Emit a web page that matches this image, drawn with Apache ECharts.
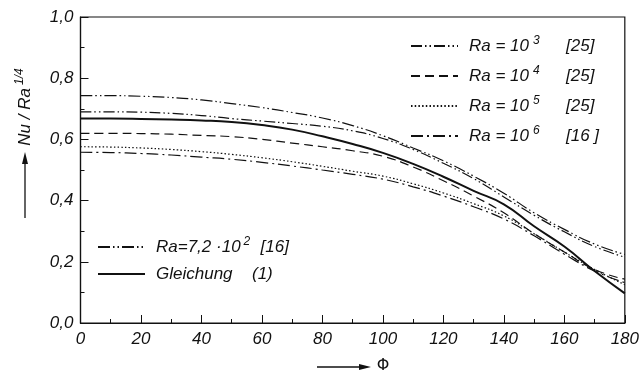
<!DOCTYPE html>
<html><head><meta charset="utf-8">
<script src="https://cdn.jsdelivr.net/npm/echarts@6/dist/echarts.min.js"></script>
<style>html,body{margin:0;padding:0;background:#fff}#c{width:642px;height:378px}</style>
</head><body><div id="c"></div>
<script>
const phi = [0,10,20,30,40,50,60,70,80,90,100,110,120,130,140,150,160,170,180];
const ra72e2 = [0.743,0.743,0.741,0.737,0.729,0.717,0.704,0.688,0.670,0.645,0.612,0.572,0.530,0.480,0.424,0.360,0.306,0.258,0.224];
const ra1e3 = [0.690,0.690,0.689,0.685,0.678,0.668,0.660,0.652,0.643,0.628,0.603,0.567,0.522,0.472,0.412,0.352,0.298,0.250,0.215];
const ra1e4 = [0.620,0.620,0.619,0.617,0.613,0.609,0.600,0.588,0.576,0.563,0.545,0.510,0.465,0.415,0.360,0.292,0.232,0.175,0.143];
const ra1e5 = [0.576,0.575,0.572,0.567,0.560,0.551,0.540,0.527,0.512,0.496,0.480,0.455,0.425,0.390,0.350,0.292,0.232,0.175,0.125];
const ra1e6 = [0.558,0.557,0.554,0.549,0.542,0.535,0.525,0.513,0.500,0.486,0.470,0.445,0.415,0.380,0.340,0.285,0.225,0.170,0.132];
const gleichung = [0.668,0.668,0.667,0.665,0.662,0.657,0.647,0.632,0.610,0.585,0.556,0.520,0.478,0.432,0.388,0.316,0.250,0.170,0.097];
const xTicks = [0,20,40,60,80,100,120,140,160,180];
const yTicks = ['0,0','0,2','0,4','0,6','0,8','1,0'];

const names = ['Ra=10^3 [25]','Ra=10^4 [25]','Ra=10^5 [25]','Ra=10^6 [16]','Ra=7,2·10^2 [16]','Gleichung (1)'];
const labelMap = {
  'Ra=10^3 [25]': '{r|Ra = 10}{s|3}{b|[25]}',
  'Ra=10^4 [25]': '{r|Ra = 10}{s|4}{b|[25]}',
  'Ra=10^5 [25]': '{r|Ra = 10}{s|5}{b|[25]}',
  'Ra=10^6 [16]': '{r|Ra = 10}{s|6}{b|[16 ]}',
  'Ra=7,2·10^2 [16]': '{r|Ra=7,2 ·10}{t|2}{b|[16]}',
  'Gleichung (1)': '{g|Gleichung}{b|(1)}'
};
const FONT = 'Liberation Sans';
const rich = {
  r: {fontFamily: FONT, fontStyle: 'italic', fontSize: 17, color: '#111', lineHeight: 22},
  s: {fontFamily: FONT, fontStyle: 'italic', fontSize: 12, color: '#111', verticalAlign: 'top', lineHeight: 22, width: 33, padding: [0,0,0,4]},
  t: {fontFamily: FONT, fontStyle: 'italic', fontSize: 12, color: '#111', verticalAlign: 'top', lineHeight: 22, width: 17, padding: [0,0,0,3]},
  b: {fontFamily: FONT, fontStyle: 'italic', fontSize: 17, color: '#111', lineHeight: 22},
  g: {fontFamily: FONT, fontStyle: 'italic', fontSize: 17, color: '#111', lineHeight: 22, width: 96}
};
function mk(vals){ return phi.map((p,i)=>[p, vals[i]]); }
function ser(name, vals, type, width){
  return {name, type:'line', data: mk(vals), smooth: true, showSymbol:false, symbol:'none',
    lineStyle:{color:'#111', width: width, type: type}, itemStyle:{color:'#111'}, z: 3};
}
const legendCommon = {orient:'vertical', itemWidth: 47, itemHeight: 14, selectedMode:false,
  formatter: n => labelMap[n], textStyle:{rich, padding:[0,0,0,6]},
  itemStyle:{opacity:0}};
const chart = echarts.init(document.getElementById('c'), null, {renderer:'canvas'});
chart.setOption({
  animation: false,
  backgroundColor: '#fff',
  grid: {left: 80.5, right: 17, top: 17, bottom: 55, show: true, borderColor: '#111', borderWidth: 1.2, backgroundColor: 'transparent'},
  xAxis: {type:'value', min:0, max:180, interval:20,
    axisLine:{lineStyle:{color:'#111', width:1.2}},
    axisTick:{inside:true, length:8, lineStyle:{color:'#111', width:1}},
    minorTick:{show:true, splitNumber:2, length:4, lineStyle:{color:'#111', width:1}},
    splitLine:{show:false},
    axisLabel:{color:'#111', fontFamily:FONT, fontStyle:'italic', fontSize:17, margin:8,
      formatter: v => xTicks.includes(v) ? String(v) : ''}},
  yAxis: {type:'value', min:0, max:1, interval:0.2,
    axisLine:{show:true, lineStyle:{color:'#111', width:1.2}},
    axisTick:{show:true, inside:true, length:8, lineStyle:{color:'#111', width:1}},
    minorTick:{show:true, splitNumber:2, length:4, lineStyle:{color:'#111', width:1}},
    splitLine:{show:false},
    axisLabel:{color:'#111', fontFamily:FONT, fontStyle:'italic', fontSize:17, margin:7,
      formatter: v => yTicks[Math.round(v*5)]}},
  legend: [
    Object.assign({data: names.slice(0,4), left: 405, top: 30, itemGap: 10.5}, legendCommon),
    Object.assign({data: names.slice(4), left: 92, top: 231, itemGap: 10}, legendCommon)
  ],
  series: [
    ser(names[0], ra1e3, [11,3,1.5,3,1.5,3], 1.2),
    ser(names[1], ra1e4, [9,5], 1.2),
    ser(names[2], ra1e5, [1.5,2.2], 1.2),
    ser(names[3], ra1e6, [12,4,2,4], 1.2),
    ser(names[4], ra72e2, [12,3,1.5,3,1.5,3], 1.2),
    ser(names[5], gleichung, 'solid', 2)
  ],
  graphic: [
    {type:'text', x: 25, y: 107, rotation: Math.PI/2,
      style:{text:'{r|Nu / Ra}{s|1/4}', rich:{
        r:{fontFamily:FONT, fontStyle:'italic', fontSize:17, fill:'#111', lineHeight:22},
        s:{fontFamily:FONT, fontStyle:'italic', fontSize:12, fill:'#111', verticalAlign:'top', lineHeight:22, padding:[0,0,0,3]}},
        align:'center', verticalAlign:'middle'}},
    {type:'line', shape:{x1:25, y1:218, x2:25, y2:160}, style:{stroke:'#111', lineWidth:1.3}},
    {type:'polygon', shape:{points:[[25,152],[22,164],[28,164]]}, style:{fill:'#111'}},
    {type:'line', shape:{x1:317, y1:367, x2:362, y2:367}, style:{stroke:'#111', lineWidth:1.3}},
    {type:'polygon', shape:{points:[[371,367],[359,364],[359,370]]}, style:{fill:'#111'}},
    {type:'text', x: 383, y: 366, style:{text:'Φ', fontFamily:'DejaVu Sans', fontSize:16, fill:'#111', align:'center', verticalAlign:'middle'}}
  ]
});
</script>
</body></html>
